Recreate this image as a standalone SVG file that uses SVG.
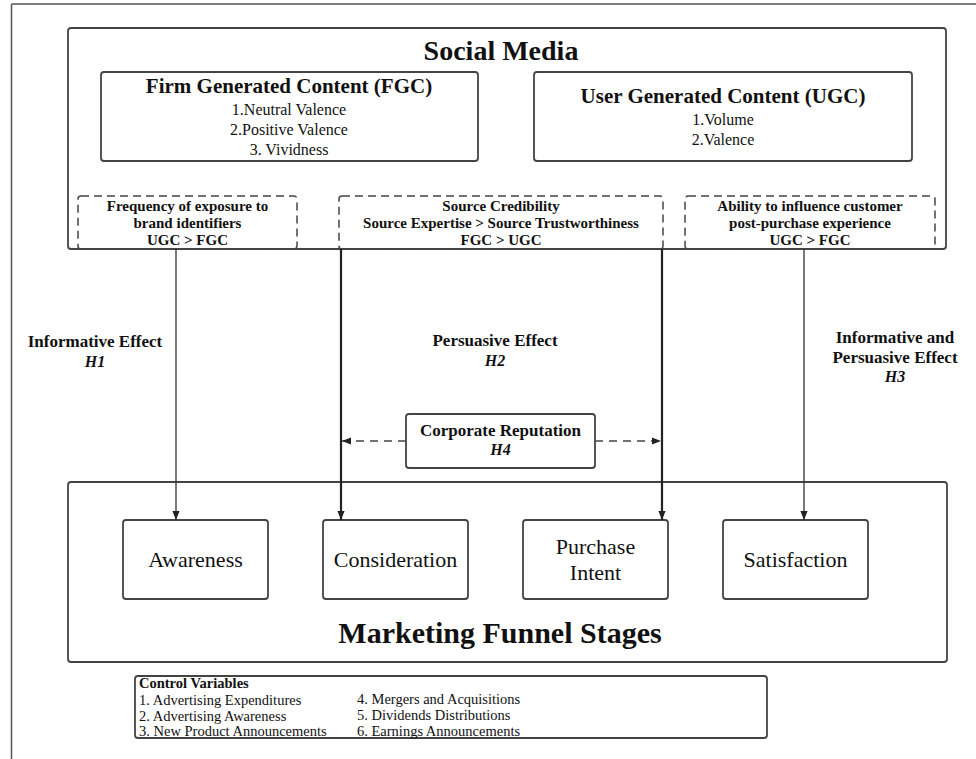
<svg xmlns="http://www.w3.org/2000/svg" width="976" height="759" viewBox="0 0 976 759">
  <defs>
    <style>
      text { font-family: "Liberation Serif", "DejaVu Serif", serif; fill: #111; text-anchor: middle; }
      .b { font-weight: bold; }
      .i { font-style: italic; font-weight: bold; }
      .box { fill: #fff; stroke: #444; stroke-width: 1.8; }
      .dbox { fill: none; stroke: #444; stroke-width: 1.5; stroke-dasharray: 8 5; }
      .thin { stroke: #333; stroke-width: 1.3; fill: none; }
      .thick { stroke: #222; stroke-width: 2.2; fill: none; }
      .dash { stroke: #444; stroke-width: 1.5; fill: none; stroke-dasharray: 8 6; }
      .frame { stroke: #555; stroke-width: 1.5; fill: none; }
      .ctl { text-anchor: start; font-size: 14.5px; }
    </style>
    <marker id="ah" viewBox="0 0 10 10" refX="10" refY="5" markerWidth="9" markerHeight="9" markerUnits="userSpaceOnUse" orient="auto">
      <path d="M0,1 L10,5 L0,9 z" fill="#222"/>
    </marker>
  </defs>

  <g id="frame">
    <line class="frame" x1="11.5" y1="4" x2="976" y2="4"/>
    <line class="frame" x1="11.5" y1="4" x2="11.5" y2="759"/>
  </g>

  <g id="social-media">
    <rect class="box" x="68" y="28" width="878" height="221" rx="3"/>
    <text class="b" x="501" y="60" font-size="28">Social Media</text>
  </g>

  <g id="fgc">
    <rect class="box" x="101" y="72" width="377" height="89" rx="3"/>
    <text class="b" x="289" y="93" font-size="21">Firm Generated Content (FGC)</text>
    <text x="289" y="115" font-size="16">1.Neutral Valence</text>
    <text x="289" y="135" font-size="16">2.Positive Valence</text>
    <text x="289" y="155" font-size="16">3. Vividness</text>
  </g>

  <g id="ugc">
    <rect class="box" x="534" y="72" width="378" height="89" rx="3"/>
    <text class="b" x="723" y="103" font-size="21">User Generated Content (UGC)</text>
    <text x="723" y="125" font-size="16">1.Volume</text>
    <text x="723" y="145" font-size="16">2.Valence</text>
  </g>

  <g id="frequency">
    <rect class="dbox" x="78" y="196" width="219" height="53" rx="3"/>
    <text class="b" x="187.5" y="211" font-size="15">Frequency of exposure to</text>
    <text class="b" x="187.5" y="228" font-size="15">brand identifiers</text>
    <text class="b" x="187.5" y="245" font-size="15">UGC &gt; FGC</text>
  </g>

  <g id="credibility">
    <rect class="dbox" x="339" y="196" width="324" height="53" rx="3"/>
    <text class="b" x="501" y="211" font-size="15">Source Credibility</text>
    <text class="b" x="501" y="228" font-size="15">Source Expertise &gt; Source Trustworthiness</text>
    <text class="b" x="501" y="245" font-size="15">FGC &gt; UGC</text>
  </g>

  <g id="post-purchase">
    <rect class="dbox" x="685" y="196" width="250" height="53" rx="3"/>
    <text class="b" x="810" y="211" font-size="15">Ability to influence customer</text>
    <text class="b" x="810" y="228" font-size="15">post-purchase experience</text>
    <text class="b" x="810" y="245" font-size="15">UGC &gt; FGC</text>
  </g>

  <g id="funnel">
    <rect class="box" x="68" y="482" width="879" height="180" rx="3"/>
    <text class="b" x="500" y="643" font-size="30">Marketing Funnel Stages</text>
  </g>

  <g id="awareness">
    <rect class="box" x="123" y="520" width="145" height="79" rx="3"/>
    <text x="195.5" y="567" font-size="22">Awareness</text>
  </g>
  <g id="consideration">
    <rect class="box" x="323" y="520" width="145" height="79" rx="3"/>
    <text x="395.5" y="567" font-size="22">Consideration</text>
  </g>
  <g id="purchase-intent">
    <rect class="box" x="523" y="520" width="145" height="79" rx="3"/>
    <text x="595.5" y="554" font-size="22">Purchase</text>
    <text x="595.5" y="580" font-size="22">Intent</text>
  </g>
  <g id="satisfaction">
    <rect class="box" x="723" y="520" width="145" height="79" rx="3"/>
    <text x="795.5" y="567" font-size="22">Satisfaction</text>
  </g>

  <g id="corporate-reputation">
    <rect class="box" x="406" y="414" width="189" height="54" rx="3"/>
    <text class="b" x="500.5" y="436" font-size="17">Corporate Reputation</text>
    <text class="i" x="500.5" y="455" font-size="16">H4</text>
  </g>

  <g id="connectors">
    <line class="thin" x1="176" y1="249" x2="176" y2="520" marker-end="url(#ah)"/>
    <line class="thick" x1="341" y1="249" x2="341" y2="520" marker-end="url(#ah)"/>
    <line class="thick" x1="662" y1="249" x2="662" y2="520" marker-end="url(#ah)"/>
    <line class="thin" x1="804" y1="249" x2="804" y2="520" marker-end="url(#ah)"/>
    <line class="dash" x1="406" y1="441" x2="342" y2="441" marker-end="url(#ah)"/>
    <line class="dash" x1="595" y1="441" x2="661" y2="441" marker-end="url(#ah)"/>
  </g>

  <g id="labels">
    <text class="b" x="95" y="347" font-size="17">Informative Effect</text>
    <text class="i" x="95" y="367" font-size="16">H1</text>
    <text class="b" x="495" y="346" font-size="17">Persuasive Effect</text>
    <text class="i" x="495" y="366" font-size="16">H2</text>
    <text class="b" x="895" y="343" font-size="17">Informative and</text>
    <text class="b" x="895" y="363" font-size="17">Persuasive Effect</text>
    <text class="i" x="895" y="382" font-size="16">H3</text>
  </g>

  <g id="control-variables">
    <rect class="box" x="135" y="676" width="632" height="62" rx="3"/>
    <text class="b ctl" x="139" y="688">Control Variables</text>
    <text class="ctl" x="139" y="705">1. Advertising Expenditures</text>
    <text class="ctl" x="139" y="721">2. Advertising Awareness</text>
    <text class="ctl" x="139" y="736">3. New Product Announcements</text>
    <text class="ctl" x="357" y="704">4. Mergers and Acquisitions</text>
    <text class="ctl" x="357" y="720">5. Dividends Distributions</text>
    <text class="ctl" x="357" y="736">6. Earnings Announcements</text>
  </g>
</svg>
